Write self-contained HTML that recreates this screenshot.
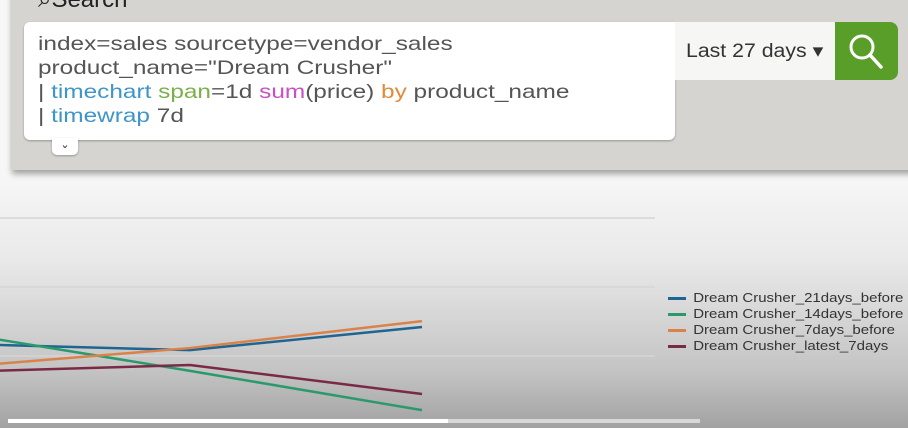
<!DOCTYPE html>
<html><head><meta charset="utf-8"><style>
body{margin:0;width:908px;height:428px;overflow:hidden;font-family:"Liberation Sans",sans-serif;background:linear-gradient(#f7f7f7 175px,#e9e9e9 260px,#c4c4c4 370px,#a2a2a2 428px);position:relative}
#panel{position:absolute;left:12px;top:-10px;width:920px;height:180px;background:#d5d4d0;box-shadow:0 4px 6px rgba(0,0,0,.35)}
#title{position:absolute;left:38px;top:-14px;font-size:24px;color:#222}
#box{position:absolute;left:24px;top:22px;width:651px;height:118px;background:#fff;border-radius:6px 0 6px 6px;box-shadow:0 1px 2px rgba(0,0,0,.3)}
#q{position:absolute;left:14px;top:10px;font-size:19.5px;line-height:24px;color:#555;white-space:pre;transform:scaleX(1.25);transform-origin:0 0}
.b{color:#3d95c8}.g{color:#7ab04a}.m{color:#c94fc2}.o{color:#e08a3c}
#time{position:absolute;left:675px;top:22px;width:160px;height:58px;background:#f6f6f4}
#time span{position:absolute;left:11px;top:18px;font-size:19px;color:#333;transform:scaleX(1.12);transform-origin:0 0;white-space:nowrap}
#go{position:absolute;left:835px;top:22px;width:63px;height:58px;background:#5a9e2a;border-radius:0 8px 8px 0}
#tog{position:absolute;left:52px;top:138px;width:26px;height:17px;background:#fff;border-radius:0 0 5px 5px;font-size:11px;text-align:center;color:#333;box-shadow:0 1px 2px rgba(0,0,0,.3)}
.leg{position:absolute;left:668px;font-size:12.5px;color:#333;white-space:nowrap;transform:scaleX(1.2);transform-origin:0 0}
.leg i{display:inline-block;width:15px;height:3px;margin-right:6px;vertical-align:middle}
</style></head><body>
<div id="panel"></div>
<div id="title">⌕Search</div>
<div id="box"><div id="q">index=sales sourcetype=vendor_sales
product_name="Dream Crusher"
| <span class="b">timechart</span> <span class="g">span</span>=1d <span class="m">sum</span>(price) <span class="o">by</span> product_name
| <span class="b">timewrap</span> 7d</div></div>
<div id="tog">⌄</div>
<div id="time"><span>Last 27 days ▾</span></div>
<div id="go"><svg width="63" height="58"><circle cx="27" cy="25" r="11" fill="none" stroke="#fff" stroke-width="3"/><line x1="35" y1="33" x2="46" y2="45" stroke="#fff" stroke-width="3.5" stroke-linecap="round"/></svg></div>
<svg id="chart" width="908" height="428" style="position:absolute;left:0;top:0"></svg>
<div class="leg" style="top:291px"><i style="background:#1f6591"></i>Dream Crusher_21days_before</div>
<div class="leg" style="top:307px"><i style="background:#2a9a6c"></i>Dream Crusher_14days_before</div>
<div class="leg" style="top:323px"><i style="background:#d9834a"></i>Dream Crusher_7days_before</div>
<div class="leg" style="top:339px"><i style="background:#7a2a45"></i>Dream Crusher_latest_7days</div>
<div style="position:absolute;left:8px;top:419px;width:440px;height:4px;background:#fff"></div>
<div style="position:absolute;left:448px;top:419px;width:252px;height:4px;background:#d8d8d8"></div>
<script>
const categories=["Day 5","Day 6","Day 7"];
const gridValues=[200,400,600];
const s21=[235,217,284];
const s14=[267,157,43];
const s7=[168,223,301];
const sLatest=[154,174,90];
const svg=document.getElementById('chart');
const NS='http://www.w3.org/2000/svg';
function x(i){return -42+i*232;}
function y(v){return 425-v*0.345;}
gridValues.forEach(g=>{const l=document.createElementNS(NS,'line');


l.setAttribute('x1',0);l.setAttribute('x2',655);l.setAttribute('y1',y(g));l.setAttribute('y2',y(g));l.setAttribute('stroke','#d6d6d6');l.setAttribute('stroke-width',1.5);svg.appendChild(l);});
[[s21,'#1f6591','series-21days'],[s14,'#2a9a6c','series-14days'],[s7,'#d9834a','series-7days'],[sLatest,'#7a2a45','series-latest']].forEach(([d,c,n])=>{
const p=document.createElementNS(NS,'polyline');


p.setAttribute('points',d.map((v,i)=>x(i)+','+y(v)).join(' '));
p.setAttribute('fill','none');p.setAttribute('stroke',c);p.setAttribute('stroke-width',2.5);svg.appendChild(p);});
</script>
</body></html>
